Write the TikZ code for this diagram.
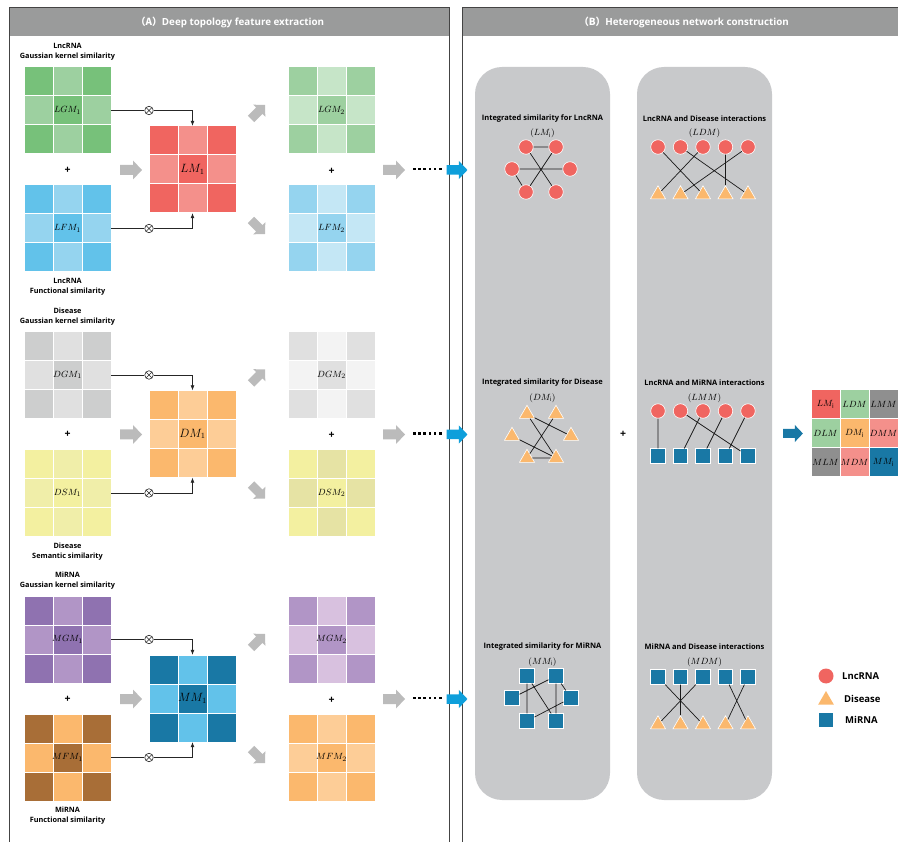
\documentclass[tikz,border=0pt]{standalone}
\usepackage{fontspec}
\setmainfont{Open Sans}
\newfontfamily\cjkfont{Noto Sans CJK SC}
\usetikzlibrary{shapes.geometric,arrows.meta}
\definecolor{gD}{HTML}{77C17A}\definecolor{gL}{HTML}{9DD0A0}\definecolor{gXL}{HTML}{C6E5C8}
\definecolor{bD}{HTML}{62C2EA}\definecolor{bL}{HTML}{95D4EF}\definecolor{bXL}{HTML}{C4E7F5}
\definecolor{rD}{HTML}{F06560}\definecolor{rL}{HTML}{F4908B}
\definecolor{kD}{HTML}{CDCECE}\definecolor{kL}{HTML}{E0E0E0}\definecolor{kXL}{HTML}{F3F3F3}
\definecolor{yA}{HTML}{F3F0A0}\definecolor{yB}{HTML}{F0EEA9}\definecolor{yK}{HTML}{E6E3A4}
\definecolor{oD}{HTML}{FBB86D}\definecolor{oL}{HTML}{FDCD97}
\definecolor{pD}{HTML}{8F72B0}\definecolor{pL}{HTML}{B195C6}\definecolor{pXL}{HTML}{D8C1DF}
\definecolor{brD}{HTML}{A86E37}
\definecolor{mD}{HTML}{1978A5}
\definecolor{hdr}{HTML}{9A9B9B}
\definecolor{colbg}{HTML}{C8C9CB}
\definecolor{arrgray}{HTML}{BBBBBB}
\definecolor{cyanarr}{HTML}{0E9FDB}
\definecolor{gry}{HTML}{8F8F8F}
\definecolor{framec}{HTML}{444444}
\newcommand\matgrid[4]{%
  \foreach \i in {0,1,2}{\foreach \j in {0,1,2}{%
    \pgfmathtruncatemacro\pp{mod(\i+\j,2)}%
    \ifnum\pp=0 \def\cc{#3}\else\def\cc{#4}\fi
    \fill[\cc] ({#1+29*\i+0.5},{#2+29*\j+0.5}) rectangle ++(28,28);
  }}}
\newcommand\dotrow[1]{%
  \foreach \k in {0,...,5}{\fill[black] ({413+5.2*\k},{#1-1.3}) rectangle ++(2.6,2.6);}}
\begin{document}
\begin{tikzpicture}[x=1pt,y=-1pt,
  mat/.style={minimum size=87pt,inner sep=0pt,font=\fontsize{9.5}{10}\selectfont},
  bigmat/.style={minimum size=87pt,inner sep=0pt,font=\fontsize{11.5}{12}\selectfont},
  lbl/.style={font=\fontsize{7.3}{10}\selectfont\bfseries,align=center,inner sep=0pt},
  ttl/.style={font=\fontsize{7.5}{8}\selectfont\bfseries,inner sep=0pt},
  mlbl/.style={font=\fontsize{9}{9}\selectfont,inner sep=0pt},
  hdrtxt/.style={font=\fontsize{9.8}{10}\selectfont\bfseries,text=white,inner sep=0pt},
  plus/.style={font=\fontsize{10.5}{10}\selectfont\bfseries,inner sep=0pt},
  conn/.style={draw=black!85,line width=0.7pt},
  otim/.style={circle,draw=black!85,line width=0.6pt,minimum size=8.5pt,inner sep=0pt,
    path picture={\draw[line width=0.6pt] (path picture bounding box.north west) -- (path picture bounding box.south east) (path picture bounding box.north east) -- (path picture bounding box.south west);}},
  lnc/.style={circle,fill=rD,draw=white,line width=0.6pt,minimum size=14.5pt,inner sep=0pt},
  dis/.style={regular polygon,regular polygon sides=3,fill=oD,draw=white,line width=0.6pt,minimum size=17.5pt,inner sep=0pt},
  mir/.style={rectangle,fill=mD,draw=white,line width=0.6pt,minimum size=14.5pt,inner sep=0pt},
  edge/.style={line width=0.7pt,draw=black!90},
  fcell/.style={minimum size=28pt,inner sep=0pt,font=\fontsize{9.5}{10}\selectfont},
  legtxt/.style={font=\fontsize{9.5}{10}\selectfont\bfseries,inner sep=0pt,anchor=west},
  blkarr/.pic={\fill (-11,-5) -- (2,-5) -- (2,-9.5) -- (11,0) -- (2,9.5) -- (2,5) -- (-11,5) -- cycle;}
]
\useasboundingbox (0,0) rectangle (898,842);
% ---------- panels ----------
\fill[hdr] (9,7.5) rectangle (449,36.5);
\fill[hdr] (462,7.5) rectangle (898,36.5);
\draw[framec,line width=0.8pt] (9,842) -- (9,7.5) -- (449,7.5) -- (449,842);
\draw[framec,line width=0.8pt] (462,842) -- (462,7.5) -- (898,7.5);
\node[hdrtxt] (hA) at (230,22) {{\cjkfont （A）}Deep topology feature extraction};
\node[hdrtxt] (hB) at (684,22) {{\cjkfont （B）}Heterogeneous network construction};
% ---------- row 1 ----------
\matgrid{24}{67}{gD}{gL}
\matgrid{24}{185}{bD}{bL}
\matgrid{149}{126}{rD}{rL}
\matgrid{288}{67}{gL}{gXL}
\matgrid{288}{185}{bL}{bXL}
\node[mat] (LGM1) at (67.5,110.5) {$LGM_1$};
\node[mat] (LFM1) at (67.5,228.5) {$LFM_1$};
\node[bigmat] (LM1) at (192.5,169.5) {$LM_1$};
\node[mat] (LGM2) at (331.5,110.5) {$LGM_2$};
\node[mat] (LFM2) at (331.5,228.5) {$LFM_2$};
\node[lbl] (l1a) at (67.5,52) {LncRNA\\Gaussian kernel similarity};
\node[lbl] (l1b) at (67.5,287) {LncRNA\\Functional similarity};
\node[plus] (p1a) at (67.5,170) {+};
\node[plus] (p1b) at (331.5,171) {+};
\node[otim] (x1a) at (149,110.5) {};
\node[otim] (x1b) at (149,228.5) {};
\draw[conn] (LGM1.east) -- (x1a);
\draw[conn,-{Latex[length=5pt,width=4pt]}] (x1a) -- (x1a -| LM1.north) -- (LM1.north);
\draw[conn] (LFM1.east) -- (x1b);
\draw[conn,-{Latex[length=5pt,width=4pt]}] (x1b) -- (x1b -| LM1.south) -- (LM1.south);
\pic[fill=arrgray] at (131,170) {blkarr};
\pic[fill=arrgray,rotate=45,scale=0.9] at (258,112) {blkarr};
\pic[fill=arrgray,rotate=-45,scale=0.9] at (258,227) {blkarr};
\pic[fill=arrgray] at (394,170) {blkarr};
\dotrow{169}
\pic[fill=cyanarr,scale=0.95] at (457,170) {blkarr};
% ---------- row 2 ----------
\matgrid{24}{331.5}{kD}{kL}
\matgrid{24}{449.5}{yA}{yB}
\matgrid{149}{390.5}{oD}{oL}
\matgrid{288}{331.5}{kL}{kXL}
\matgrid{288}{449.5}{yA}{yK}
\node[mat] (DGM1) at (67.5,375) {$DGM_1$};
\node[mat] (DSM1) at (67.5,493) {$DSM_1$};
\node[bigmat] (DM1) at (192.5,434) {$DM_1$};
\node[mat] (DGM2) at (331.5,375) {$DGM_2$};
\node[mat] (DSM2) at (331.5,493) {$DSM_2$};
\node[lbl] (l2a) at (67.5,316.5) {Disease\\Gaussian kernel similarity};
\node[lbl] (l2b) at (67.5,551.5) {Disease\\Semantic similarity};
\node[plus] (p2a) at (67.5,434.5) {+};
\node[plus] (p2b) at (331.5,435.5) {+};
\node[otim] (x2a) at (149,375) {};
\node[otim] (x2b) at (149,493) {};
\draw[conn] (DGM1.east) -- (x2a);
\draw[conn,-{Latex[length=5pt,width=4pt]}] (x2a) -- (x2a -| DM1.north) -- (DM1.north);
\draw[conn] (DSM1.east) -- (x2b);
\draw[conn,-{Latex[length=5pt,width=4pt]}] (x2b) -- (x2b -| DM1.south) -- (DM1.south);
\pic[fill=arrgray] at (131,434.5) {blkarr};
\pic[fill=arrgray,rotate=45,scale=0.9] at (258,376.5) {blkarr};
\pic[fill=arrgray,rotate=-45,scale=0.9] at (258,491.5) {blkarr};
\pic[fill=arrgray] at (394,434.5) {blkarr};
\dotrow{433.5}
\pic[fill=cyanarr,scale=0.95] at (457,434.5) {blkarr};
% ---------- row 3 ----------
\matgrid{24}{596}{pD}{pL}
\matgrid{24}{714}{brD}{oD}
\matgrid{149}{655}{mD}{bD}
\matgrid{288}{596}{pL}{pXL}
\matgrid{288}{714}{oD}{oL}
\node[mat] (MGM1) at (67.5,639.5) {$MGM_1$};
\node[mat] (MFM1) at (67.5,757.5) {$MFM_1$};
\node[bigmat] (MM1) at (192.5,698.5) {$MM_1$};
\node[mat] (MGM2) at (331.5,639.5) {$MGM_2$};
\node[mat] (MFM2) at (331.5,757.5) {$MFM_2$};
\node[lbl] (l3a) at (67.5,581) {MiRNA\\Gaussian kernel similarity};
\node[lbl] (l3b) at (67.5,816) {MiRNA\\Functional similarity};
\node[plus] (p3a) at (67.5,699) {+};
\node[plus] (p3b) at (331.5,700) {+};
\node[otim] (x3a) at (149,639.5) {};
\node[otim] (x3b) at (149,757.5) {};
\draw[conn] (MGM1.east) -- (x3a);
\draw[conn,-{Latex[length=5pt,width=4pt]}] (x3a) -- (x3a -| MM1.north) -- (MM1.north);
\draw[conn] (MFM1.east) -- (x3b);
\draw[conn,-{Latex[length=5pt,width=4pt]}] (x3b) -- (x3b -| MM1.south) -- (MM1.south);
\pic[fill=arrgray] at (131,699) {blkarr};
\pic[fill=arrgray,rotate=45,scale=0.9] at (258,641) {blkarr};
\pic[fill=arrgray,rotate=-45,scale=0.9] at (258,756) {blkarr};
\pic[fill=arrgray] at (394,699) {blkarr};
\dotrow{698}
\pic[fill=cyanarr,scale=0.95] at (457,699) {blkarr};
% ---------- panel B columns ----------
\fill[colbg,rounded corners=27pt] (475,67) rectangle (610,800);
\fill[colbg,rounded corners=27pt] (637,67) rectangle (772,800);
% graph LM_i
\node[ttl] (t1) at (542.5,119) {Integrated similarity for LncRNA};
\node[mlbl] (t1m) at (542.5,133.5) {$(LM_{\mathrm{i}})$};
\node[lnc] (a1) at (526,147) {};
\node[lnc] (a2) at (556,147) {};
\node[lnc] (a3) at (512,169) {};
\node[lnc] (a4) at (570,169) {};
\node[lnc] (a5) at (526,192) {};
\node[lnc] (a6) at (556,192) {};
\draw[edge] (a1) -- (a2) (a1) -- (a6) (a2) -- (a5) (a3) -- (a4) (a3) -- (a5);
% graph LDM
\node[ttl] (t2) at (704.5,119) {LncRNA and Disease interactions};
\node[mlbl] (t2m) at (704.5,133.5) {$(LDM)$};
\foreach \n/\x in {1/658,2/680.5,3/703,4/725.5,5/748}{
  \node[lnc] (bc\n) at (\x,147) {};
  \node[dis] (bt\n) at (\x,194.5) {};
}
\draw[edge] (bc1) -- (bt3) (bc2) -- (bt5) (bc3) -- (bt1) (bc4) -- (bt4) (bc5) -- (bt2);
% graph DM_i
\node[ttl] (t3) at (542.5,383) {Integrated similarity for Disease};
\node[mlbl] (t3m) at (542.5,398) {$(DM_{\mathrm{i}})$};
\node[dis] (c1) at (527,414) {};
\node[dis] (c2) at (556,414) {};
\node[dis] (c3) at (512,436) {};
\node[dis] (c4) at (571,436) {};
\node[dis] (c5) at (527,458) {};
\node[dis] (c6) at (556,458) {};
\draw[edge] (c1) -- (c4) (c1) -- (c6) (c2) -- (c5) (c3) -- (c6) (c5) -- (c6);
% graph LMM
\node[ttl] (t4) at (704.5,383) {LncRNA and MiRNA interactions};
\node[mlbl] (t4m) at (704.5,398) {$(LMM)$};
\foreach \n/\x in {1/658,2/680.5,3/703,4/725.5,5/748}{
  \node[lnc] (dc\n) at (\x,411) {};
  \node[mir] (ds\n) at (\x,456) {};
}
\draw[edge] (dc1) -- (ds1) (dc2) -- (ds5) (dc3) -- (ds2) (dc4) -- (ds3) (dc5) -- (ds4);
\node[plus] (pB) at (623,434) {+};
% graph MM_i
\node[ttl] (t5) at (542.5,647) {Integrated similarity for MiRNA};
\node[mlbl] (t5m) at (542.5,662) {$(MM_{\mathrm{i}})$};
\node[mir] (e1) at (527,676) {};
\node[mir] (e2) at (556,676) {};
\node[mir] (e3) at (512,698) {};
\node[mir] (e4) at (571,698) {};
\node[mir] (e5) at (527,721) {};
\node[mir] (e6) at (556,721) {};
\draw[edge] (e1) -- (e5) (e2) -- (e6) (e2) -- (e3) (e1) -- (e6) (e2) -- (e4) (e5) -- (e4);
% graph MDM
\node[ttl] (t6) at (704.5,647) {MiRNA and Disease interactions};
\node[mlbl] (t6m) at (704.5,662) {$(MDM)$};
\foreach \n/\x in {1/658,2/680.5,3/703,4/725.5,5/748}{
  \node[mir] (fs\n) at (\x,677) {};
  \node[dis] (ft\n) at (\x,724.5) {};
}
\draw[edge] (fs1) -- (ft3) (fs2) -- (ft2) (fs3) -- (ft1) (fs4) -- (ft5) (fs5) -- (ft4);
% ---------- final matrix ----------
\pic[fill=mD,scale=0.9] at (793,433.5) {blkarr};
\node[fcell,fill=rD] (f11) at (825.5,404.5) {$LM_{\mathrm{i}}$};
\node[fcell,fill=gL] (f12) at (854.5,404.5) {$LDM$};
\node[fcell,fill=gry] (f13) at (883.5,404.5) {$LMM$};
\node[fcell,fill=gL] (f21) at (825.5,433.5) {$DLM$};
\node[fcell,fill=oD] (f22) at (854.5,433.5) {$DM_{\mathrm{i}}$};
\node[fcell,fill=rL] (f23) at (883.5,433.5) {$DMM$};
\node[fcell,fill=gry] (f31) at (825.5,462.5) {$MLM$};
\node[fcell,fill=rL] (f32) at (854.5,462.5) {$MDM$};
\node[fcell,fill=mD] (f33) at (883.5,462.5) {$MM_{\mathrm{i}}$};
% ---------- legend ----------
\node[lnc,minimum size=15pt,draw=none] (g1) at (826,676) {};
\node[dis,minimum size=18pt,draw=none] (g2) at (826,700) {};
\node[mir,minimum size=14.5pt,draw=none] (g3) at (826,720) {};
\node[legtxt] (gl1) at (842,676) {LncRNA};
\node[legtxt] (gl2) at (844,699) {Disease};
\node[legtxt] (gl3) at (845,720) {MiRNA};
\end{tikzpicture}
\end{document}
